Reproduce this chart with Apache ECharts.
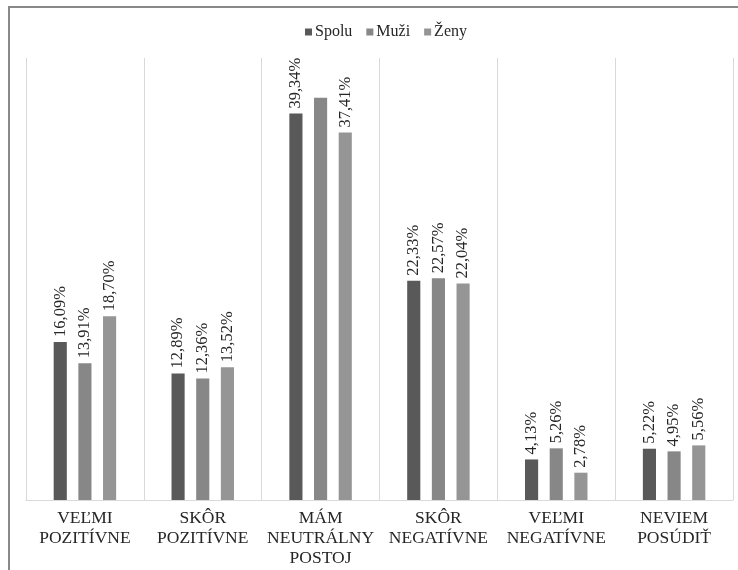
<!DOCTYPE html>
<html>
<head>
<meta charset="utf-8">
<script src="https://cdn.jsdelivr.net/npm/echarts@6/dist/echarts.min.js"></script>
<style>html,body{margin:0;padding:0;background:#fff}#c{width:738px;height:570px}</style>
</head>
<body>
<div id="c"></div>
<script>
var categories = ['VEĽMI POZITÍVNE', 'SKÔR POZITÍVNE', 'MÁM NEUTRÁLNY POSTOJ', 'SKÔR NEGATÍVNE', 'VEĽMI NEGATÍVNE', 'NEVIEM POSÚDIŤ'];
var seriesNames = ['Spolu', 'Muži', 'Ženy'];
var spolu = [16.09, 12.89, 39.34, 22.33, 4.13, 5.22];
var muzi = [13.91, 12.36, 40.95, 22.57, 5.26, 4.95];
var zeny = [18.70, 13.52, 37.41, 22.04, 2.78, 5.56];
var hiddenLabels = { 'Muži': [2] };

var colors = ['#595959', '#878787', '#959595'];
var serif = '"Liberation Serif", "Times New Roman", serif';
var values = [spolu, muzi, zeny];

var series = seriesNames.map(function (name, si) {
  var hide = hiddenLabels[name] || [];
  return {
    name: name,
    type: 'bar',
    barGap: '88%',
    barCategoryGap: '47%',
    itemStyle: { color: colors[si] },
    label: {
      show: true,
      position: 'top',
      rotate: 90,
      align: 'left',
      verticalAlign: 'middle',
      distance: 5,
      fontFamily: serif,
      fontSize: 16.5,
      color: '#262626',
      formatter: function (p) { return p.value.toFixed(2).replace('.', ',') + '%'; }
    },
    data: values[si].map(function (v, i) {
      return hide.indexOf(i) >= 0 ? { value: v, label: { show: false } } : v;
    })
  };
});

var chart = echarts.init(document.getElementById('c'));
chart.setOption({
  animation: false,
  graphic: [{
    type: 'rect',
    shape: { x: 9, y: 7, width: 760, height: 600 },
    style: { fill: 'none', stroke: '#888888', lineWidth: 2 },
    silent: true
  }],
  legend: {
    data: seriesNames,
    top: 19,
    left: 300,
    icon: 'rect',
    itemWidth: 7,
    itemHeight: 7,
    itemGap: 14,
    textStyle: { fontFamily: serif, fontSize: 16, color: '#262626', padding: [0, 0, 0, -2] }
  },
  grid: { left: 26, right: 5, top: 58, bottom: 70, containLabel: false },
  xAxis: {
    type: 'category',
    data: categories,
    axisLine: { lineStyle: { color: '#d9d9d9', width: 1 } },
    axisTick: { show: false },
    splitLine: { show: true, lineStyle: { color: '#d9d9d9', width: 1 } },
    axisLabel: {
      interval: 0,
      margin: 8,
      fontFamily: serif,
      fontSize: 17.5,
      lineHeight: 20,
      color: '#262626',
      formatter: function (v) { return v.split(' ').join('\n'); }
    }
  },
  yAxis: {
    type: 'value',
    min: 0,
    max: 45,
    show: false,
    splitLine: { show: false }
  },
  series: series
});
</script>
</body>
</html>
